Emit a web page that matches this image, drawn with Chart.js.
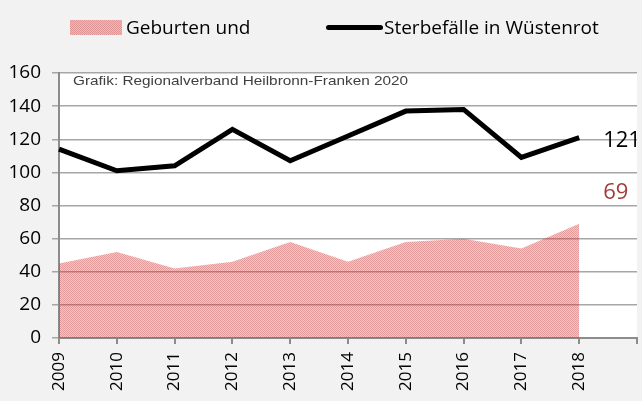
<!DOCTYPE html>
<html>
<head>
<meta charset="utf-8">
<script src="https://cdn.jsdelivr.net/npm/chart.js@4"></script>
<style>
    html, body { margin: 0; padding: 0; background: #f2f2f2; }
    #wrap { position: relative; width: 642px; height: 401px; }
    #legende { position: absolute; left: 0; top: 0; width: 642px; height: 50px;
        font-family: 'Open Sans', sans-serif; font-size: 19px; color: #000; }
    .item { position: absolute; top: 13px; height: 28px; line-height: 28px; white-space: nowrap; }
    .box { position: absolute; left: 70px; top: 20px; width: 52px; height: 15px; }
    .strich { position: absolute; left: 326px; top: 25px; width: 57px; height: 5px; background: #000; border-radius: 3px; }
</style>
</head>
<body>
<div id="wrap">
    <canvas id="grafik" width="642" height="401"></canvas>
    <div id="legende">
        <div class="box" id="legende-box"></div>
        <div class="item" style="left:126px">Geburten und</div>
        <div class="strich"></div>
        <div class="item" style="left:384px">Sterbefälle in Wüstenrot</div>
    </div>
</div>
<script>
const jahre = ['2009', '2010', '2011', '2012', '2013', '2014', '2015', '2016', '2017', '2018', ''];
const geburten = [45, 52, 42, 46, 58, 46, 58, 60, 54, 69];
const sterbefaelle = [114, 101, 104, 126, 107, 122, 137, 138, 109, 121];
const yTicks = [0, 20, 40, 60, 80, 100, 120, 140, 160];
const quelle = 'Grafik: Regionalverband Heilbronn-Franken 2020';

const schrift = "'Open Sans', sans-serif";

function makePattern() {
    const c = document.createElement('canvas');
    c.width = 2;
    c.height = 2;
    const ctx = c.getContext('2d');
    ctx.fillStyle = 'rgba(200, 55, 55, 0.5)';
    ctx.fillRect(0, 0, 1, 1);
    ctx.fillRect(1, 1, 1, 1);
    ctx.fillStyle = 'rgba(200, 55, 55, 0.28)';
    ctx.fillRect(1, 0, 1, 1);
    ctx.fillRect(0, 1, 1, 1);
    return c;
}

const musterCanvas = makePattern();
const canvas = document.getElementById('grafik');
const muster = canvas.getContext('2d').createPattern(musterCanvas, 'repeat');

// legend box gets the same texture
document.getElementById('legende-box').style.background =
    'url(' + musterCanvas.toDataURL() + ') repeat';

const hintergrund = {
    id: 'hintergrund',
    beforeDraw(chart) {
        const { ctx, chartArea } = chart;
        ctx.save();
        ctx.fillStyle = '#ffffff';
        ctx.fillRect(chartArea.left, chartArea.top, chartArea.right - chartArea.left, chartArea.bottom - chartArea.top);
        ctx.restore();
    }
};

const beschriftung = {
    id: 'beschriftung',
    afterDatasetsDraw(chart) {
        const { ctx, chartArea, scales } = chart;
        ctx.save();
        ctx.textBaseline = 'middle';
        ctx.textAlign = 'left';
        // source note, a bit wider than plain Arial like in the original
        ctx.save();
        ctx.translate(chartArea.left + 14, chartArea.top + 8);
        ctx.scale(1.18, 1);
        ctx.font = "13px 'Liberation Sans', Arial, sans-serif";
        ctx.fillStyle = '#404040';
        ctx.fillText(quelle, 0, 0);
        ctx.restore();

        const last = sterbefaelle.length - 1;
        const x = scales.x.getPixelForValue(last) + 24;
        ctx.font = '22px ' + schrift;
        ctx.fillStyle = '#000000';
        ctx.fillText(String(sterbefaelle[last]), x, scales.y.getPixelForValue(sterbefaelle[last]) + 3);
        ctx.fillStyle = '#a33b38';
        ctx.fillText(String(geburten[last]), x, scales.y.getPixelForValue(geburten[last]) - 31);
        ctx.restore();
    }
};

new Chart(canvas, {
    type: 'line',
    data: {
        labels: jahre,
        datasets: [
            {
                label: 'Sterbefälle in Wüstenrot',
                data: sterbefaelle,
                borderColor: '#000000',
                borderWidth: 5,
                pointRadius: 0,
                tension: 0,
                fill: false,
                order: 0
            },
            {
                label: 'Geburten und',
                data: geburten,
                borderWidth: 0,
                borderColor: 'transparent',
                backgroundColor: muster,
                pointRadius: 0,
                tension: 0,
                fill: 'origin',
                order: 1
            }
        ]
    },
    options: {
        responsive: false,
        animation: false,
        layout: { padding: { top: 73, right: 5, left: 0, bottom: 0 } },
        plugins: {
            legend: { display: false },
            tooltip: { enabled: false }
        },
        scales: {
            x: {
                offset: false,
                afterFit: s => {
                    s.height = 63;
                    s.paddingLeft = 0;
                    s.paddingRight = 0;
                },
                border: { color: '#8c8c8c', width: 2 },
                grid: { drawOnChartArea: false, drawTicks: true, tickLength: 6, color: '#8c8c8c', lineWidth: 2 },
                ticks: {
                    color: '#000',
                    font: { family: schrift, size: 17 },
                    minRotation: 90,
                    maxRotation: 90,
                    autoSkip: false,
                    padding: 8
                }
            },
            y: {
                min: 0,
                max: 160,
                afterFit: s => {
                    s.width = 59;
                    s.paddingTop = 0;
                    s.paddingBottom = 0;
                },
                afterBuildTicks: s => { s.ticks = yTicks.map(v => ({ value: v })); },
                border: { color: '#8c8c8c', width: 2 },
                grid: { color: '#a6a6a6', lineWidth: 1.5, tickLength: 7 },
                ticks: {
                    color: '#000',
                    font: { family: schrift, size: 19 },
                    padding: 11
                }
            }
        }
    },
    plugins: [hintergrund, beschriftung]
});
</script>
</body>
</html>
